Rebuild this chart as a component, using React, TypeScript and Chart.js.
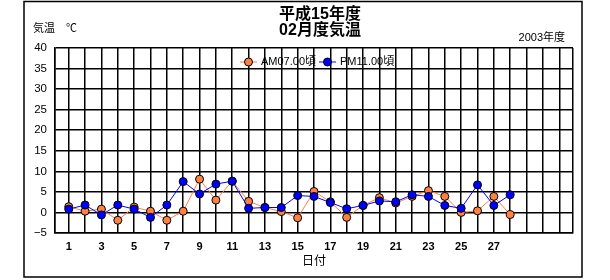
import { useEffect, useRef } from 'react';
import { Chart, registerables } from 'chart.js';

Chart.register(...registerables);

const days = [1, 2, 3, 4, 5, 6, 7, 8, 9, 10, 11, 12, 13, 14, 15, 16, 17, 18, 19, 20, 21, 22, 23, 24, 25, 26, 27, 28];
const amTemps = [1.4, 0.3, 0.8, -1.9, 1.3, 0.3, -1.9, 0.3, 8.1, 3.0, 7.6, 2.7, 1.2, 0.2, -1.3, 5.1, 2.6, -1.2, 1.7, 3.6, 2.3, 3.9, 5.3, 3.9, 0.0, 0.4, 3.9, -0.5];
const pmTemps = [0.8, 1.8, -0.6, 1.8, 0.8, -1.2, 1.8, 7.5, 4.5, 6.9, 7.6, 1.0, 1.2, 1.2, 4.1, 3.9, 2.4, 0.9, 1.7, 2.8, 2.6, 4.3, 3.9, 1.7, 1.0, 6.7, 1.7, 4.3];
const gridDays = [1, 2, 3, 4, 5, 6, 7, 8, 9, 10, 11, 12, 13, 14, 15, 16, 17, 18, 19, 20, 21, 22, 23, 24, 25, 26, 27, 28, 29, 30, 31];
const xTickLabels = ['1', '3', '5', '7', '9', '11', '13', '15', '17', '19', '21', '23', '25', '27'];
const yTicks = [-5, 0, 5, 10, 15, 20, 25, 30, 35, 40];
const seriesNames = ['AM07.00頃', 'PM11.00頃'];
const titleLines = ['平成15年度', '02月度気温'];
const yUnitLabel = '気温　℃';
const yearLabel = '2003年度';
const xTitle = '日付';

const AM_COLOR = '#FF8040';
const PM_COLOR = '#0000FF';
const FONT = '"Liberation Sans", "Noto Sans CJK JP", sans-serif';

const decorPlugin = {
  id: 'decor',
  afterDraw(chart: any) {
    const ctx = chart.ctx as CanvasRenderingContext2D;
    const area = chart.chartArea;
    ctx.save();
    // outer frame
    ctx.strokeStyle = '#000';
    ctx.lineWidth = 1.5;
    ctx.strokeRect(24, 1.5, 558, 275.5);
    ctx.fillStyle = '#000';
    // title
    ctx.font = `bold 16px ${FONT}`;
    ctx.textAlign = 'center';
    ctx.textBaseline = 'middle';
    ctx.fillText(titleLines[0], 320, 15);
    ctx.fillText(titleLines[1], 320, 31);
    // unit label
    ctx.font = `11px ${FONT}`;
    ctx.textAlign = 'left';
    ctx.fillText(yUnitLabel, 33, 29);
    // year label
    ctx.textAlign = 'right';
    ctx.fillText(yearLabel, 565, 38);
    // x title
    ctx.font = `12px ${FONT}`;
    ctx.textAlign = 'center';
    ctx.fillText(xTitle, (area.left + area.right) / 2, 262);
    // legend
    const items = [
      { name: seriesNames[0], color: AM_COLOR, x: 240 },
      { name: seriesNames[1], color: PM_COLOR, x: 319 },
    ];
    const ly = 62;
    ctx.font = `11px ${FONT}`;
    for (const it of items) {
      ctx.strokeStyle = it.color;
      ctx.lineWidth = 1;
      ctx.beginPath();
      ctx.moveTo(it.x, ly);
      ctx.lineTo(it.x + 17, ly);
      ctx.stroke();
      ctx.beginPath();
      ctx.arc(it.x + 8.5, ly, 4, 0, Math.PI * 2);
      ctx.fillStyle = it.color;
      ctx.fill();
      ctx.strokeStyle = '#000';
      ctx.stroke();
      ctx.fillStyle = '#000';
      ctx.textAlign = 'left';
      ctx.fillText(it.name, it.x + 21, ly);
    }
    ctx.restore();
  },
};

export default function App() {
  const ref = useRef<HTMLCanvasElement>(null);
  useEffect(() => {
    document.body.style.margin = '0';
    const canvas = ref.current!;
    const chart = new Chart(canvas, {
      type: 'line',
      data: {
        datasets: [
          {
            label: seriesNames[0],
            data: days.map((d, i) => ({ x: d, y: amTemps[i] })),
            borderColor: AM_COLOR,
            backgroundColor: AM_COLOR,
            pointBackgroundColor: AM_COLOR,
            pointBorderColor: '#000',
            pointBorderWidth: 1,
            pointRadius: 4,
            borderWidth: 1,
            tension: 0,
            order: 1,
          },
          {
            label: seriesNames[1],
            data: days.map((d, i) => ({ x: d, y: pmTemps[i] })),
            borderColor: PM_COLOR,
            backgroundColor: PM_COLOR,
            pointBackgroundColor: PM_COLOR,
            pointBorderColor: '#000',
            pointBorderWidth: 1,
            pointRadius: 4,
            borderWidth: 1,
            tension: 0,
            order: 0,
          },
        ],
      },
      options: {
        animation: false,
        responsive: false,
        maintainAspectRatio: false,
        layout: { padding: { top: 48, right: 37, left: 0, bottom: 0 } },
        plugins: {
          legend: { display: false },
          title: { display: false },
          tooltip: { enabled: false },
        },
        scales: {
          x: {
            type: 'linear',
            min: 0.16,
            max: 31.84,
            afterBuildTicks: (scale: any) => {
              scale.ticks = [scale.min, ...gridDays, scale.max].map((v: number) => ({ value: v }));
            },
            afterFit: (scale: any) => {
              scale.height = 47;
            },
            ticks: {
              autoSkip: false,
              maxRotation: 0,
              padding: 7,
              color: '#000',
              font: { family: FONT, size: 11, weight: 'bold' },
              callback: (v: any) => (xTickLabels.includes(String(v)) ? String(v) : ''),
            },
            grid: { color: '#000', lineWidth: 1.5, drawTicks: false },
            border: { color: '#000', width: 1.5 },
          },
          y: {
            min: -5,
            max: 40,
            afterBuildTicks: (scale: any) => {
              scale.ticks = yTicks.map((v) => ({ value: v }));
            },
            afterFit: (scale: any) => {
              scale.width = 55;
            },
            ticks: {
              padding: 8,
              color: '#000',
              font: { family: FONT, size: 11.5 },
              callback: (v: any) => (Number(v) < 0 ? '\u2212' + Math.abs(Number(v)) : String(v)),
            },
            grid: { color: '#000', lineWidth: 1.5, drawTicks: false },
            border: { color: '#000', width: 1.5 },
          },
        },
      },
      plugins: [decorPlugin],
    });
    return () => chart.destroy();
  }, []);
  return (
    <div style={{ width: 610, height: 280 }}>
      <canvas ref={ref} width={610} height={280} style={{ display: 'block' }} />
    </div>
  );
}
